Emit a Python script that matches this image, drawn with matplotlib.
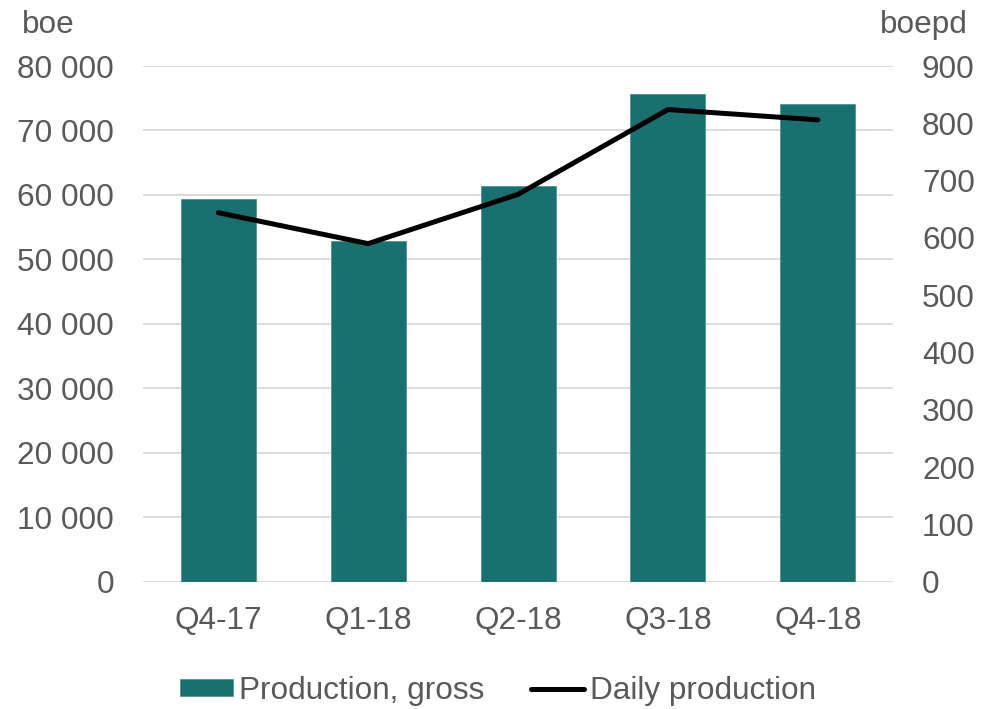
import matplotlib
matplotlib.use("Agg")
import matplotlib.pyplot as plt
from matplotlib.ticker import FuncFormatter, MultipleLocator

quarters = ["Q4-17", "Q1-18", "Q2-18", "Q3-18", "Q4-18"]
production_gross = [59300, 52800, 61400, 75700, 74100]   # boe
daily_production = [644, 590, 676, 824, 806]             # boepd

BAR_COLOR = "#1A6F6F"
TEXT_COLOR = "#595959"
GRID_COLOR = "#D9D9D9"
FS = 22.7

plt.rcParams["font.family"] = ["Liberation Sans", "DejaVu Sans"]

fig = plt.figure(figsize=(9.92, 7.09), dpi=100)
ax = fig.add_axes([0.1445, 0.1796, 0.7555, 0.7273])
ax2 = ax.twinx()

x = list(range(len(quarters)))
bars = ax.bar(x, production_gross, width=0.5, color=BAR_COLOR,
              edgecolor="#4F9494", linewidth=0.6, zorder=2,
              label="Production, gross")
line, = ax2.plot(x, daily_production, color="black", linewidth=3.6,
                 solid_capstyle="round", solid_joinstyle="round",
                 zorder=3, label="Daily production")

ax.set_xlim(-0.5, len(quarters) - 0.5)
ax.set_ylim(0, 80000)
ax2.set_ylim(0, 900)
ax.yaxis.set_major_locator(MultipleLocator(10000))
ax2.yaxis.set_major_locator(MultipleLocator(100))

def space_thousands(v, _pos):
    return f"{int(round(v)):,}".replace(",", " ")

ax.yaxis.set_major_formatter(FuncFormatter(space_thousands))
ax2.yaxis.set_major_formatter(FuncFormatter(space_thousands))

ax.set_xticks(x)
ax.set_xticklabels(quarters)

ax.grid(axis="y", color=GRID_COLOR, linewidth=1.3, zorder=0)
ax.set_axisbelow(True)

for a in (ax, ax2):
    for s in a.spines.values():
        s.set_visible(False)
    a.tick_params(length=0, labelsize=FS, labelcolor=TEXT_COLOR)
ax.tick_params(axis="y", pad=21)
ax2.tick_params(axis="y", pad=21)
ax.tick_params(axis="x", pad=17.5)

fig.text(0.022, 0.954, "boe", fontsize=FS, color=TEXT_COLOR,
         ha="left", va="baseline")
fig.text(0.976, 0.954, "boepd", fontsize=FS, color=TEXT_COLOR,
         ha="right", va="baseline")

leg = fig.legend([bars, line], ["Production, gross", "Daily production"],
                 loc="lower center", bbox_to_anchor=(0.502, -0.022), ncol=2,
                 frameon=False, fontsize=FS, handlelength=1.7,
                 handleheight=0.48, handletextpad=0.2, columnspacing=1.45,
                 borderaxespad=0.2)
for t in leg.get_texts():
    t.set_color(TEXT_COLOR)

fig.savefig("out.png", dpi=100, facecolor="white")
